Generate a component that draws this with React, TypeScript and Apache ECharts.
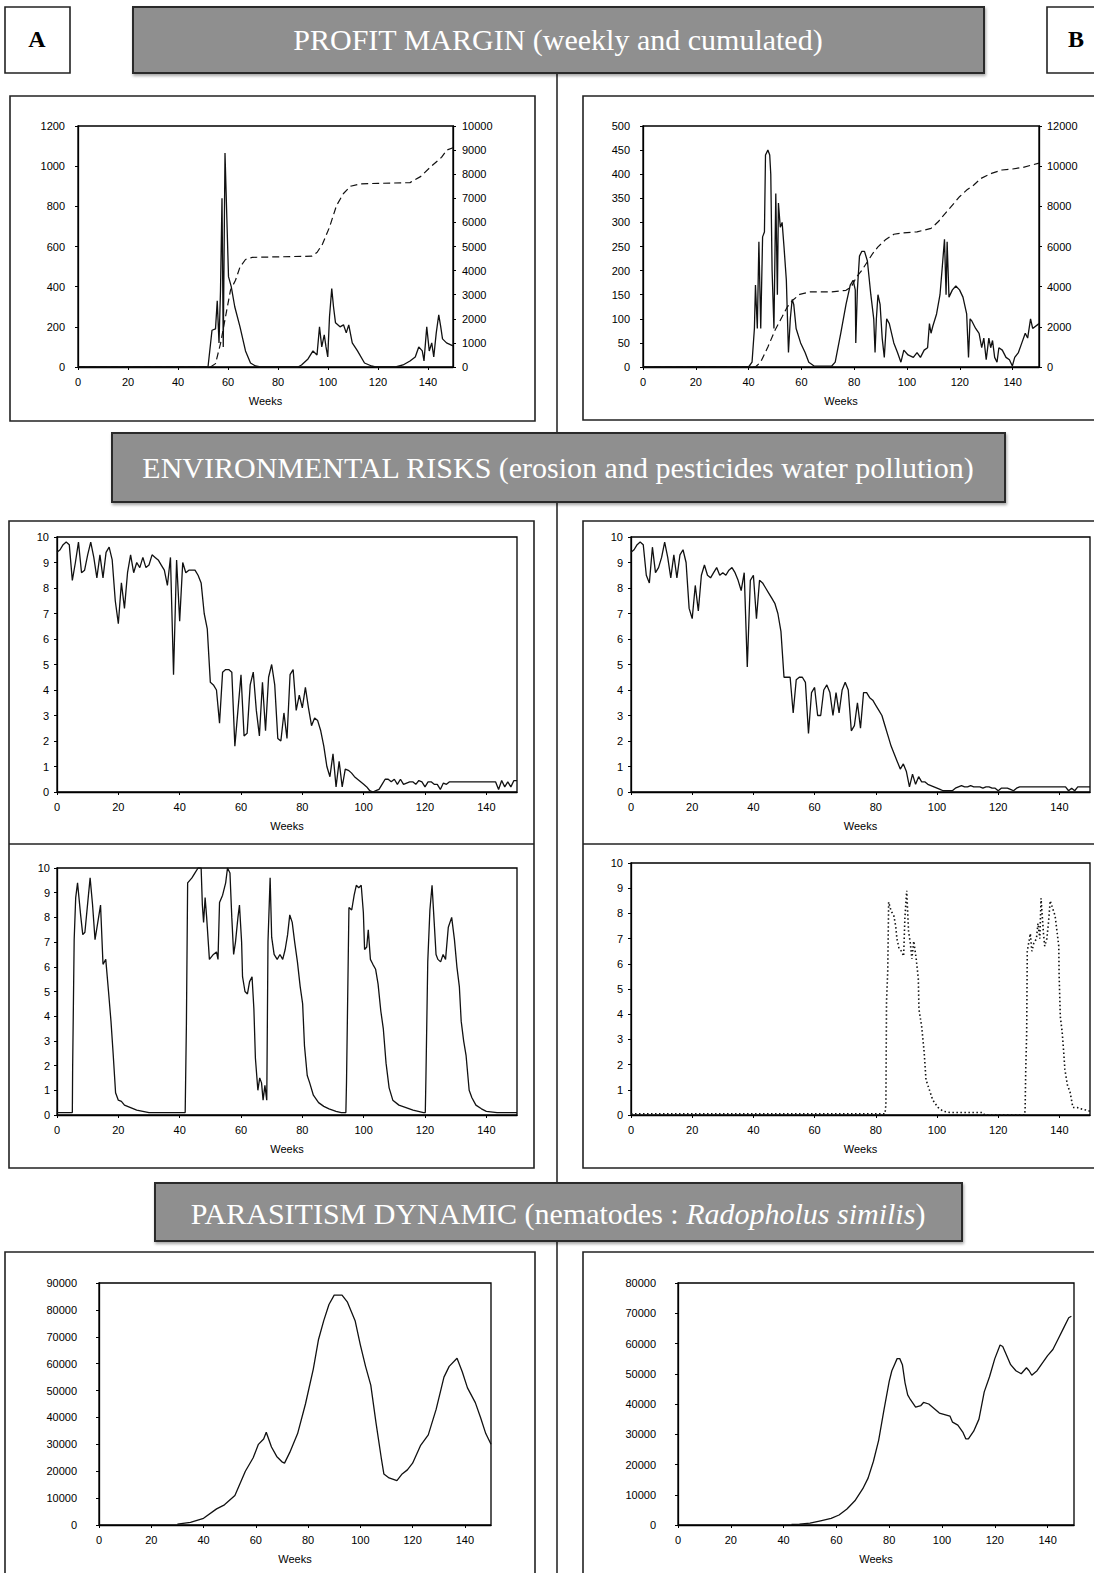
import React, { useEffect, useRef } from "react";
import * as echarts from "echarts";

// ---------- DATA ----------
const WEEK_MIN = 0;
const WEEK_MAX = 150;
const WEEK_STEP = 20;

// Panel A – profit margin (weekly, left axis) [week, value]
const profitWeeklyA: number[][] = [
  [0, 0], [52, 0], [53.6, 183], [55, 190], [55.7, 330], [56.4, 120], [57, 380], [57.6, 840], [58.1, 100],
  [58.8, 1065], [59.7, 670], [60.2, 450], [61.3, 400], [62.7, 300], [64.8, 200], [67, 80], [69, 20], [71, 5],
  [73, 0], [88, 0], [89.4, 10], [92, 40], [94, 80], [95.6, 60], [96.6, 200], [97.5, 100], [98.5, 160],
  [99.2, 100], [99.9, 50], [100.6, 250], [101.5, 390], [102.2, 300], [103, 220], [104.8, 200], [106.2, 210],
  [107.3, 170], [108.3, 210], [109.7, 120], [111.8, 80], [114.6, 20], [117.4, 5], [119, 0], [127, 0],
  [130, 10], [132.8, 30], [134.9, 50], [136.3, 100], [137.7, 80], [138.4, 30], [139.5, 200], [140.5, 80],
  [141.5, 120], [142.3, 50], [143.3, 170], [144.3, 260], [145.1, 200], [145.8, 140], [147.4, 120], [150, 105],
];
// Panel A – profit margin cumulated (right axis)
const profitCumA: number[][] = [
  [0, 0], [53, 0], [55, 140], [57, 970], [59, 2080], [61, 3190], [63, 3600], [64.8, 4150], [67, 4460],
  [69.7, 4550], [80, 4570], [93.5, 4600], [95.6, 4750], [97.8, 5100], [100.6, 5800], [103.4, 6700],
  [106.2, 7200], [109, 7500], [113, 7600], [120, 7620], [132.8, 7650], [137, 7900], [141, 8300],
  [145.4, 8700], [147.5, 9000], [150, 9100],
];
// Panel B – profit margin weekly
const profitWeeklyB: number[][] = [
  [0, 0], [40, 0], [41.3, 10], [42.2, 80], [42.6, 170], [43.3, 80], [43.9, 260], [44.6, 80], [45.3, 270],
  [46, 280], [46.4, 440], [47.3, 450], [48, 440], [48.4, 400], [48.9, 200], [49.6, 80], [50.3, 360],
  [50.9, 150], [51.3, 340], [52, 290], [52.7, 300], [53.4, 250], [54.3, 180], [55.1, 30], [55.8, 100],
  [56.5, 140], [57.1, 130], [58, 80], [59.7, 50], [61.4, 30], [62.8, 10], [64.8, 2], [71.5, 2], [72.8, 10],
  [74.9, 70], [76.9, 130], [78.5, 170], [79.6, 180], [80.4, 160], [80.6, 50], [81.2, 160], [82, 230],
  [82.9, 240], [83.9, 240], [85, 220], [86.3, 150], [87.4, 100], [87.9, 30], [88.4, 100], [89, 150],
  [89.8, 130], [90.6, 60], [91.4, 20], [92.3, 100], [93.3, 90], [95, 50], [96.4, 30], [97.7, 10],
  [98.8, 35], [100.4, 25], [102.4, 20], [103.8, 30], [105.1, 20], [106.5, 35], [107.8, 40], [108.5, 90],
  [109.1, 70], [109.8, 85], [111.2, 110], [112.5, 150], [113.4, 210], [114.2, 265], [114.8, 150],
  [115.2, 260], [115.9, 145], [117.2, 160], [118.5, 168], [119.9, 160], [121.2, 145], [122.6, 110],
  [123.3, 20], [123.9, 100], [124.6, 95], [126, 80], [127.3, 70], [128.3, 40], [129.1, 60], [130, 15],
  [131, 60], [131.7, 40], [132.4, 55], [133.2, 20], [134.1, 10], [134.8, 40], [136.1, 35], [137.5, 20],
  [138.8, 15], [139.9, 2], [140.8, 20], [142.2, 30], [143.5, 50], [144.8, 70], [145.7, 60], [146.8, 100],
  [147.6, 80], [150, 90],
];
// Panel B – profit margin cumulated
const profitCumB: number[][] = [
  [0, 0], [42.6, 0], [44.6, 250], [47.3, 1000], [50, 1830], [52.7, 2500], [54.7, 3000], [56.7, 3320],
  [59.4, 3620], [63.4, 3740], [71.5, 3740], [76.9, 3820], [78.9, 3990], [80.9, 4490], [82.9, 4820],
  [85, 5240], [87, 5650], [89, 5980], [91.7, 6320], [95, 6610], [98.4, 6680], [103.8, 6730], [109.1, 6900],
  [111.8, 7230], [114.5, 7650], [117.2, 8060], [119.9, 8480], [122.6, 8810], [125.3, 9060], [128, 9390],
  [132, 9640], [136, 9810], [140, 9860], [144, 9940], [147.4, 10060], [150, 10150],
];

// Environmental risk – erosion (one value per week, week = index)
const erosionA: number[] = [
  9.4, 9.5, 9.7, 9.8, 9.7, 8.3, 9.0, 9.8, 8.6, 8.7,
  9.3, 9.8, 9.2, 8.4, 9.3, 8.4, 9.4, 9.6, 9.1, 7.5,
  6.6, 8.2, 7.2, 8.6, 9.3, 8.6, 9.0, 8.8, 9.2, 8.8,
  8.9, 9.3, 9.2, 9.1, 8.9, 8.7, 8.1, 9.2, 4.6, 9.1,
  6.7, 9.0, 8.6, 8.7, 8.7, 8.7, 8.5, 8.2, 7.0, 6.4,
  4.3, 4.2, 4.0, 2.7, 4.7, 4.8, 4.8, 4.7, 1.8, 3.2,
  4.6, 2.2, 2.3, 4.2, 4.7, 3.2, 2.2, 4.3, 2.4, 4.5,
  5.0, 4.2, 2.1, 2.0, 3.1, 2.1, 4.6, 4.8, 3.2, 3.8,
  3.3, 4.1, 3.3, 2.6, 2.9, 2.8, 2.4, 1.8, 1.0, 0.6,
  1.5, 0.2, 1.2, 0.2, 0.9, 0.85, 0.75, 0.6, 0.5, 0.4,
  0.3, 0.2, 0.05, 0.0, 0.05, 0.1, 0.3, 0.5, 0.5, 0.4,
  0.5, 0.3, 0.5, 0.3, 0.35, 0.4, 0.4, 0.3, 0.45, 0.4,
  0.2, 0.4, 0.4, 0.3, 0.3, 0.1, 0.35, 0.3, 0.4, 0.4,
  0.4, 0.4, 0.4, 0.4, 0.4, 0.4, 0.4, 0.4, 0.4, 0.4,
  0.4, 0.4, 0.4, 0.4, 0.1, 0.45, 0.2, 0.4, 0.2, 0.45,
  0.45,
];
const erosionB: number[] = [
  9.4, 9.5, 9.7, 9.8, 9.7, 8.5, 8.2, 9.6, 8.6, 8.8,
  9.2, 9.8, 9.2, 8.4, 9.3, 8.4, 9.3, 9.5, 9.0, 7.2,
  6.8, 8.1, 7.1, 8.5, 8.9, 8.5, 8.4, 8.6, 8.8, 8.5,
  8.6, 8.5, 8.7, 8.8, 8.6, 8.3, 7.9, 8.6, 4.9, 8.3,
  8.5, 6.8, 8.3, 8.2, 8.0, 7.8, 7.6, 7.4, 7.0, 6.3,
  4.5, 4.5, 4.5, 3.1, 4.4, 4.5, 4.5, 4.3, 2.3, 3.9,
  4.1, 3.0, 3.0, 4.0, 4.2, 3.9, 3.0, 3.9, 3.1, 4.0,
  4.3, 4.0, 2.4, 2.6, 3.5, 2.5, 3.9, 3.9, 3.7, 3.6,
  3.4, 3.2, 3.0, 2.6, 2.2, 1.8, 1.5, 1.2, 0.9, 1.1,
  0.8, 0.2, 0.7, 0.3, 0.6, 0.4, 0.4, 0.3, 0.25, 0.2,
  0.15, 0.1, 0.05, 0.05, 0.05, 0.05, 0.15, 0.2, 0.25, 0.2,
  0.2, 0.25, 0.2, 0.2, 0.2, 0.15, 0.2, 0.2, 0.15, 0.15,
  0.05, 0.15, 0.15, 0.15, 0.1, 0.05, 0.15, 0.2, 0.2, 0.2,
  0.2, 0.2, 0.2, 0.2, 0.2, 0.2, 0.2, 0.2, 0.2, 0.2,
  0.2, 0.2, 0.2, 0.05, 0.15, 0.05, 0.2, 0.2, 0.2, 0.2,
  0.2,
];

// Environmental risk – pesticides water pollution [week, value]
const pesticideA: number[][] = [
  [0, 0.1], [5, 0.1], [5.1, 1.9], [5.6, 7.1], [6.1, 8.8], [6.7, 9.4], [7.7, 8.1], [8.4, 7.3], [9.1, 7.4],
  [10.1, 8.7], [10.8, 9.6], [11.6, 8.5], [12.4, 7.1], [13.3, 7.8], [14.2, 8.5], [15, 6.1], [15.9, 6.3],
  [16.8, 5.0], [17.6, 3.8], [18.3, 2.5], [19.1, 0.9], [20, 0.6], [21, 0.55], [22, 0.4], [24, 0.3], [26, 0.2],
  [28, 0.15], [30, 0.1], [41.8, 0.1], [42.2, 3.7], [42.6, 9.4], [44, 9.6], [45, 9.8], [46, 10], [47, 10],
  [47.4, 8.5], [47.8, 7.8], [48.3, 8.8], [48.8, 8.0], [49.7, 6.3], [51, 6.5], [52, 6.6], [52.5, 6.3],
  [53, 8.6], [54, 8.9], [55, 9.4], [55.6, 10], [56.4, 9.8], [57, 8.0], [57.6, 6.5], [58.2, 7.0], [59, 8.0],
  [59.5, 8.5], [60.2, 7.0], [60.5, 5.6], [61.3, 5.0], [62.1, 4.9], [62.8, 5.4], [63.6, 5.6], [64.2, 4.3],
  [64.7, 2.3], [65.5, 1.0], [66.1, 1.5], [66.7, 1.3], [67.2, 0.6], [67.8, 1.2], [68.4, 0.6], [68.8, 7.0],
  [69.5, 9.6], [70, 7.2], [70.8, 6.5], [71.8, 6.3], [72.7, 6.5], [73.6, 6.3], [74.4, 6.7], [75.2, 7.3],
  [75.9, 8.1], [76.7, 7.8], [77.5, 7.0], [78.4, 6.2], [79.3, 5.2], [80.1, 4.5], [80.7, 2.8], [81.6, 1.6],
  [82.4, 1.3], [83.6, 0.8], [85.3, 0.5], [87, 0.35], [88.7, 0.25], [91, 0.15], [92.7, 0.1], [94.2, 0.1],
  [94.4, 1.3], [95.2, 8.4], [96.1, 8.3], [96.9, 8.9], [97.6, 9.3], [98.4, 9.2], [99.2, 9.3], [99.9, 8.2],
  [100.3, 6.7], [101, 6.8], [101.5, 7.5], [102.2, 6.3], [103, 6.1], [103.9, 5.9], [104.7, 5.3], [105.6, 4.2],
  [106.4, 3.5], [107.3, 2.1], [108.3, 1.1], [109.5, 0.6], [111.5, 0.4], [113.8, 0.3], [116.1, 0.2],
  [119.5, 0.1], [120.1, 0.1], [120.3, 1.5], [120.9, 6.2], [121.6, 8.3], [122.3, 9.3], [123, 7.8],
  [123.6, 6.5], [124.2, 6.3], [125.1, 6.2], [125.9, 6.5], [126.7, 6.3], [127.6, 7.6], [128.7, 8.0],
  [129.6, 7.1], [130.4, 6.0], [131.2, 5.2], [131.8, 3.8], [132.6, 3.0], [133.4, 2.4], [134.4, 1.0],
  [135.3, 0.7], [136.6, 0.4], [138.4, 0.25], [140, 0.15], [143.5, 0.1], [150, 0.1],
];
const pesticideB: number[][] = [
  [0, 0.05], [83, 0.05], [83.3, 0.4], [83.5, 4.5], [83.9, 5.7], [84.2, 8.45], [85, 8.1], [85.9, 7.9],
  [86.5, 7.5], [86.9, 7.0], [87.6, 6.6], [88.4, 6.5], [89.1, 6.3], [89.5, 7.8], [90.1, 8.9], [90.7, 7.3],
  [91.3, 6.8], [91.8, 6.2], [92.4, 6.9], [93.2, 6.2], [93.9, 5.4], [94.1, 4.2], [95, 3.5], [95.8, 2.5],
  [96.4, 1.4], [97.5, 1.0], [98.6, 0.6], [100.3, 0.3], [102, 0.15], [104.3, 0.1], [115, 0.1], [115.5, 0],
  [128.6, 0], [128.8, 0.2], [129, 1.8], [129.3, 3.2], [129.5, 6.5], [130.5, 7.2], [131, 6.5], [131.6, 6.8],
  [132.5, 7.0], [133, 7.6], [133.6, 7.0], [134, 8.6], [134.8, 7.2], [135.2, 6.7], [135.9, 7.0], [136.4, 7.6],
  [137, 8.5], [137.8, 8.2], [138.6, 7.9], [139.1, 7.4], [139.8, 6.7], [139.9, 5.6], [140.3, 3.9],
  [140.9, 3.3], [141.4, 2.5], [141.8, 1.8], [142.6, 1.2], [143.5, 0.9], [144.4, 0.3], [145.8, 0.3],
  [146.9, 0.25], [148.6, 0.2], [150, 0.15],
];

// Parasitism dynamic – nematodes [week, value]
const nematodesA: number[][] = [
  [30, 300], [35, 1000], [40, 2500], [45, 6000], [48, 7500], [52, 11000], [56, 20000], [59, 25000],
  [61, 30000], [63, 32000], [64, 34500], [66, 29000], [68, 25500], [70, 23500], [71, 23000], [73, 27000],
  [76, 34000], [79, 45000], [82, 58000], [84, 69000], [86, 76000], [88, 82000], [90, 85500], [93, 85500],
  [95, 83000], [98, 76000], [100, 67000], [102, 59000], [104, 52000], [106, 38000], [108, 25000],
  [109, 19000], [111, 17500], [114, 16500], [116, 19000], [118, 20500], [120, 23000], [123, 29500],
  [126, 33500], [129, 43000], [131, 51000], [132, 55000], [134, 59000], [137, 62000], [139, 57000],
  [141, 51000], [144, 45500], [146, 40000], [148, 34000], [150, 30000],
];
const nematodesB: number[][] = [
  [43, 200], [46, 300], [50, 600], [54, 1400], [58, 2200], [61, 3300], [64, 5300], [67, 8000], [70, 12000],
  [72, 15500], [74, 21000], [76, 28000], [78, 38000], [80, 47500], [81, 51000], [82, 53000], [83, 55000],
  [84, 55000], [85, 53000], [86, 47000], [87, 43000], [88, 41500], [90, 39000], [92, 39500], [93, 40500],
  [95, 40000], [97, 38500], [99, 37000], [101, 36500], [103, 36000], [104, 34000], [106, 33000],
  [108, 30500], [109, 28500], [110, 28500], [112, 31000], [114, 35000], [116, 44000], [118, 49000],
  [120, 55000], [122, 59500], [123, 59000], [124, 57000], [126, 53000], [128, 51000], [130, 50000],
  [132, 52000], [133, 51000], [134, 49500], [136, 51000], [138, 53500], [140, 56000], [142, 58000],
  [144, 61500], [146, 65000], [148, 68500], [149, 69000],
];

// Titles
const HEADER_PROFIT = "PROFIT MARGIN (weekly and cumulated)";
const HEADER_ENV = "ENVIRONMENTAL RISKS (erosion and pesticides water pollution)";
const HEADER_PARA_1 = "PARASITISM DYNAMIC (nematodes : ";
const HEADER_PARA_2 = "Radopholus similis";
const HEADER_PARA_3 = ")";
const X_NAME = "Weeks";

// ---------- STYLE ----------
const SANS = "Liberation Sans";
const SERIF = "Liberation Serif";
const LINE_COLOR = "#111";

const grids = [
  { left: 78, top: 126, width: 375, height: 241 },   // A profit
  { left: 643, top: 126, width: 396, height: 241 },  // B profit
  { left: 57, top: 537, width: 460, height: 255 },   // A erosion
  { left: 57, top: 868, width: 460, height: 247 },   // A pesticides
  { left: 631, top: 537, width: 459, height: 255 },  // B erosion
  { left: 631, top: 863, width: 459, height: 252 },  // B pesticides
  { left: 99, top: 1283, width: 392, height: 242 },  // A nematodes
  { left: 678, top: 1283, width: 396, height: 242 }, // B nematodes
];

function xAxis(gridIndex: number) {
  return {
    type: "value",
    gridIndex,
    min: WEEK_MIN,
    max: WEEK_MAX,
    interval: WEEK_STEP,
    name: X_NAME,
    nameLocation: "middle",
    nameGap: 28,
    nameTextStyle: { fontSize: 11, fontFamily: SANS, color: "#000" },
    axisLine: { show: true, onZero: false, lineStyle: { color: "#000", width: 1.3 } },
    axisTick: { show: true, length: 3, lineStyle: { color: "#000" } },
    axisLabel: { fontSize: 11, color: "#000", fontFamily: SANS, margin: 9, showMaxLabel: false },
    splitLine: { show: false },
  };
}

function yAxis(gridIndex: number, max: number, interval: number, margin: number, position = "left") {
  return {
    type: "value",
    gridIndex,
    position,
    min: 0,
    max,
    interval,
    axisLine: { show: true, onZero: false, lineStyle: { color: "#000", width: 1.3 } },
    axisTick: { show: true, length: 3, lineStyle: { color: "#000" } },
    axisLabel: {
      fontSize: 11,
      color: "#000",
      fontFamily: SANS,
      margin,
      formatter: (v: number) => String(v),
    },
    splitLine: { show: false },
  };
}

function line(xAxisIndex: number, yAxisIndex: number, data: number[][], type: any = "solid", width = 1.3) {
  return {
    type: "line",
    xAxisIndex,
    yAxisIndex,
    data,
    showSymbol: false,
    symbol: "none",
    silent: true,
    lineStyle: { color: LINE_COLOR, width, type },
  };
}

const byWeek = (arr: number[]) => arr.map((v, i) => [i, v]);

function box(x: number, y: number, w: number, h: number) {
  return {
    type: "rect",
    shape: { x, y, width: w, height: h },
    style: { fill: "none", stroke: "#222", lineWidth: 1.6 },
    silent: true,
  };
}

function header(x: number, y: number, w: number, h: number) {
  return {
    type: "rect",
    shape: { x, y, width: w, height: h },
    style: {
      fill: "#8f8f8f",
      stroke: "#2a2a2a",
      lineWidth: 2,
      shadowColor: "rgba(0,0,0,0.35)",
      shadowBlur: 3,
      shadowOffsetX: 1,
      shadowOffsetY: 2,
    },
    silent: true,
  };
}

function headerText(x: number, y: number, text: string) {
  return {
    type: "text",
    x,
    y,
    style: {
      text,
      fill: "#fff",
      font: `30px "${SERIF}"`,
      align: "center",
      verticalAlign: "middle",
    },
    silent: true,
  };
}

function lineEl(x1: number, y1: number, x2: number, y2: number, color = "#222", w = 1.6) {
  return {
    type: "line",
    shape: { x1, y1, x2, y2 },
    style: { stroke: color, lineWidth: w },
    silent: true,
  };
}

export default function App() {
  const ref = useRef<HTMLDivElement>(null);

  useEffect(() => {
    if (!ref.current) return;
    const chart = echarts.init(ref.current, undefined, { renderer: "svg" });

    const option: any = {
      animation: false,
      backgroundColor: "#fff",
      grid: grids.map((g) => ({
        ...g,
        show: true,
        borderColor: "#000",
        borderWidth: 1.3,
        backgroundColor: "transparent",
        containLabel: false,
      })),
      xAxis: grids.map((_, i) => xAxis(i)),
      yAxis: [
        yAxis(0, 1200, 200, 13),
        yAxis(0, 10000, 1000, 9, "right"),
        yAxis(1, 500, 50, 13),
        yAxis(1, 12000, 2000, 8, "right"),
        yAxis(2, 10, 1, 8),
        yAxis(3, 10, 1, 7),
        yAxis(4, 10, 1, 8),
        yAxis(5, 10, 1, 8),
        yAxis(6, 90000, 10000, 22),
        yAxis(7, 80000, 10000, 22),
      ],
      series: [
        line(0, 0, profitWeeklyA),
        line(0, 1, profitCumA, [7, 4], 1.2),
        line(1, 2, profitWeeklyB),
        line(1, 3, profitCumB, [7, 4], 1.2),
        line(2, 4, byWeek(erosionA)),
        line(3, 5, pesticideA),
        line(4, 6, byWeek(erosionB)),
        line(5, 7, pesticideB, [1.5, 2.5], 1.6),
        line(6, 8, nematodesA),
        line(7, 9, nematodesB),
      ],
      graphic: [
        // central vertical connector
        lineEl(557, 73, 557, 1573, "#555", 2),
        // panel boxes
        box(10, 96, 525, 325),
        box(583, 96, 530, 324),
        box(9, 521, 525, 647),
        lineEl(9, 844, 534, 844),
        box(583, 521, 530, 647),
        lineEl(583, 844, 1094, 844),
        box(5, 1252, 530, 340),
        box(583, 1252, 530, 340),
        // letters
        box(5, 7, 65, 66),
        box(1047, 7, 70, 66),
        {
          type: "text",
          x: 37,
          y: 39,
          style: { text: "A", fill: "#000", font: `bold 24px "${SERIF}"`, align: "center", verticalAlign: "middle" },
          silent: true,
        },
        {
          type: "text",
          x: 1076,
          y: 39,
          style: { text: "B", fill: "#000", font: `bold 24px "${SERIF}"`, align: "center", verticalAlign: "middle" },
          silent: true,
        },
        // headers
        header(133, 7, 851, 66),
        headerText(558, 39, HEADER_PROFIT),
        header(112, 433, 893, 69),
        headerText(558, 467, HEADER_ENV),
        header(155, 1183, 807, 58),
        {
          type: "text",
          x: 558,
          y: 1213,
          style: {
            text: `{n|${HEADER_PARA_1}}{i|${HEADER_PARA_2}}{n|${HEADER_PARA_3}}`,
            align: "center",
            verticalAlign: "middle",
            rich: {
              n: { fill: "#fff", fontFamily: SERIF, fontSize: 30 },
              i: { fill: "#fff", fontFamily: SERIF, fontSize: 30, fontStyle: "italic" },
            },
          },
          silent: true,
        },
      ],
    };

    chart.setOption(option);
    return () => chart.dispose();
  }, []);

  return (
    <div
      ref={ref}
      style={{ position: "absolute", left: 0, top: 0, width: 1094, height: 1573, background: "#fff" }}
    />
  );
}
